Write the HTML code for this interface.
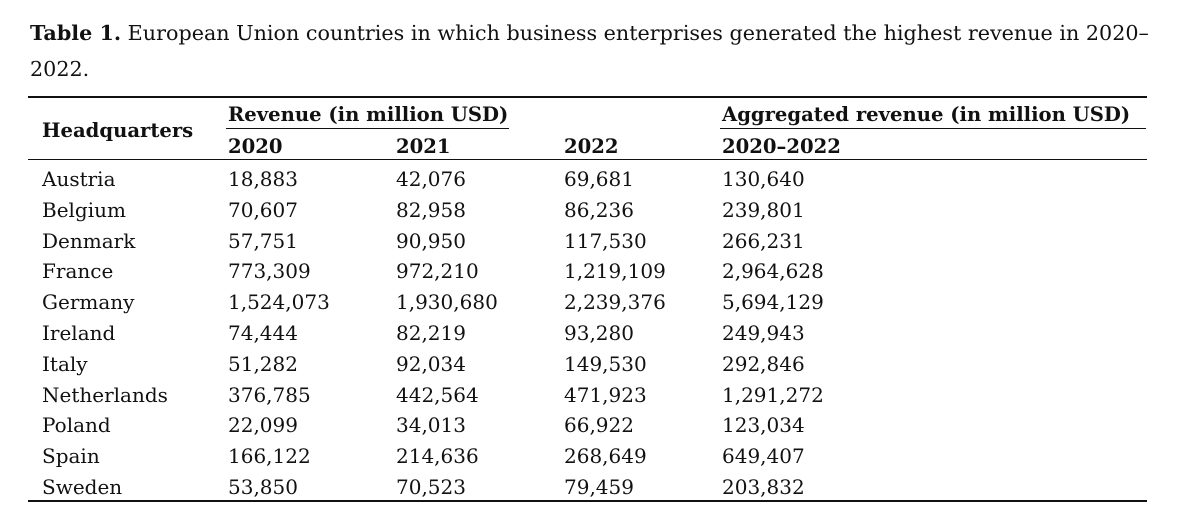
<!DOCTYPE html>
<html><head><meta charset="utf-8"><style>
body{margin:0;background:#fff;width:1177px;height:531px;position:relative;overflow:hidden;font-family:"DejaVu Serif","Liberation Serif",serif;font-size:20px;color:#111}
.t{position:absolute;white-space:nowrap;line-height:1}
.b{font-weight:bold;font-size:19.6px}
.l{position:absolute;background:#111}
</style></head><body>
<div class="t" style="left:30px;top:23px;font-size:20.7px"><span style="font-weight:bold">Table 1.</span> European Union countries in which business enterprises generated the highest revenue in 2020–</div>
<div class="t" style="left:30px;top:59px;font-size:20.7px">2022.</div>
<div class="l" style="left:28px;top:96px;width:1119px;height:2px"></div>
<div class="t b" style="left:228px;top:105px">Revenue (in million USD)</div>
<div class="t b" style="left:722px;top:105px">Aggregated revenue (in million USD)</div>
<div class="t b" style="left:42px;top:121px">Headquarters</div>
<div class="l" style="left:226px;top:128px;width:283px;height:1px"></div>
<div class="l" style="left:720px;top:128px;width:426px;height:1px"></div>
<div class="t b" style="left:228px;top:137px">2020</div>
<div class="t b" style="left:396px;top:137px">2021</div>
<div class="t b" style="left:564px;top:137px">2022</div>
<div class="t b" style="left:722px;top:137px">2020–2022</div>
<div class="l" style="left:28px;top:159px;width:1119px;height:1px"></div>
<div id="rows"></div>
<div class="l" style="left:28px;top:500px;width:1119px;height:2px"></div>
<script>
var d=[["Austria","18,883","42,076","69,681","130,640"],["Belgium","70,607","82,958","86,236","239,801"],["Denmark","57,751","90,950","117,530","266,231"],["France","773,309","972,210","1,219,109","2,964,628"],["Germany","1,524,073","1,930,680","2,239,376","5,694,129"],["Ireland","74,444","82,219","93,280","249,943"],["Italy","51,282","92,034","149,530","292,846"],["Netherlands","376,785","442,564","471,923","1,291,272"],["Poland","22,099","34,013","66,922","123,034"],["Spain","166,122","214,636","268,649","649,407"],["Sweden","53,850","70,523","79,459","203,832"]];
var xs=[42,228,396,564,722],h="";
d.forEach(function(r,i){var y=169+i*30.8;r.forEach(function(c,j){h+='<div class="t" style="left:'+xs[j]+'px;top:'+y+'px">'+c+'</div>';});});
document.getElementById("rows").innerHTML=h;
</script>
</body></html>
